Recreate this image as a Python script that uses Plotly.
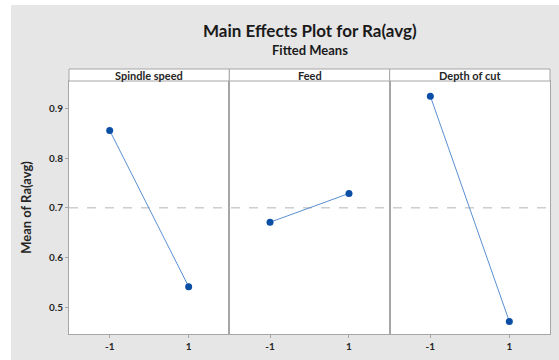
import plotly.graph_objects as go
from plotly.subplots import make_subplots

# ---- data ----
factors = ["Spindle speed", "Feed", "Depth of cut"]
levels = [-1, 1]
level_labels = ["-1", "1"]
means_spindle = [0.856, 0.541]
means_feed = [0.671, 0.729]
means_depth = [0.925, 0.471]
overall_mean = 0.700
y_ticks = [0.5, 0.6, 0.7, 0.8, 0.9]
y_tick_labels = ["0.5", "0.6", "0.7", "0.8", "0.9"]
title_text = "Main Effects Plot for Ra(avg)"
subtitle_text = "Fitted Means"
y_title = "Mean of Ra(avg)"

series = [means_spindle, means_feed, means_depth]

# ---- style ----
FONT = "Lato"
BG = "#e6e6e6"
FRAME = "#a6a6a6"
LINE_C = "#5a8fd2"
MARK_C = "#0b4ea6"
TEXT_C = "#262626"

W, H = 559, 360
ML, MR, MT, MB = 69, 9, 69, 26
plot_h = H - MT - MB
strip_h = 12
ydom_top = 1 - strip_h / plot_h

fig = make_subplots(rows=1, cols=3, shared_yaxes=True, horizontal_spacing=0)

for i, vals in enumerate(series):
    fig.add_trace(
        go.Scatter(
            x=levels, y=vals, mode="lines+markers",
            line=dict(color=LINE_C, width=1),
            marker=dict(color=MARK_C, size=7),
            showlegend=False, hoverinfo="skip",
        ),
        row=1, col=i + 1,
    )

for i in range(3):
    xa = "xaxis" if i == 0 else f"xaxis{i+1}"
    ya = "yaxis" if i == 0 else f"yaxis{i+1}"
    fig.layout[xa].update(
        range=[-2.03, 2.03], tickvals=levels, ticktext=level_labels,
        showgrid=False, zeroline=False, showline=True, mirror=True,
        linecolor=FRAME, linewidth=1, ticks="outside", ticklen=3,
        tickcolor=FRAME, tickfont=dict(family=FONT, size=10, color=TEXT_C, weight="bold"),
    )
    fig.layout[ya].update(
        range=[0.4457, 0.9557], domain=[0, ydom_top],
        showgrid=False, zeroline=False, showline=True, mirror=True,
        linecolor=FRAME, linewidth=1,
    )

fig.layout.yaxis.update(
    tickvals=y_ticks, ticktext=y_tick_labels, ticks="outside", ticklen=3,
    tickcolor=FRAME, tickfont=dict(family=FONT, size=10, color=TEXT_C, weight="bold"),
    title=dict(text=y_title, font=dict(family=FONT, size=13, color=TEXT_C, weight="bold"), standoff=14),
)

# reference mean line
fig.add_shape(type="line", xref="paper", yref="y", x0=0, x1=1,
              y0=overall_mean, y1=overall_mean,
              line=dict(color="#b4b4b4", width=1, dash="dash"), layer="below")

# strips
for i, name in enumerate(factors):
    x0, x1 = i / 3, (i + 1) / 3
    fig.add_shape(type="rect", xref="paper", yref="paper", x0=x0, x1=x1,
                  y0=ydom_top, y1=1, fillcolor="white",
                  line=dict(color=FRAME, width=1))
    fig.add_annotation(x=(x0 + x1) / 2, y=(ydom_top + 1) / 2, xref="paper", yref="paper",
                       text=name, showarrow=False, xanchor="center", yanchor="middle",
                       font=dict(family=FONT, size=11, color=TEXT_C, weight="bold"))

# white border around the grey page
pw = W - ML - MR
fig.add_shape(type="rect", xref="paper", yref="paper",
              x0=-ML / pw - 0.01, x1=(-ML + 11) / pw, y0=-0.2, y1=1.4,
              fillcolor="white", line=dict(width=0), layer="below")
fig.add_shape(type="rect", xref="paper", yref="paper",
              x0=-ML / pw - 0.01, x1=1.1, y0=1 + (MT - 5) / plot_h, y1=1.4,
              fillcolor="white", line=dict(width=0), layer="below")

# titles
fig.add_annotation(x=0.5, y=1 + (MT - 30) / plot_h, xref="paper", yref="paper",
                   text=title_text, showarrow=False, xanchor="center", yanchor="middle",
                   font=dict(family=FONT, size=17, color="#1a1a1a", weight="bold"))
fig.add_annotation(x=0.5, y=1 + (MT - 50) / plot_h, xref="paper", yref="paper",
                   text=subtitle_text, showarrow=False, xanchor="center", yanchor="middle",
                   font=dict(family=FONT, size=13, color="#1a1a1a", weight="bold"))

fig.update_layout(
    width=W, height=H,
    margin=dict(l=ML, r=MR, t=MT, b=MB),
    paper_bgcolor=BG, plot_bgcolor="white",
    font=dict(family=FONT, color=TEXT_C),
)

fig.write_html("out.html")
